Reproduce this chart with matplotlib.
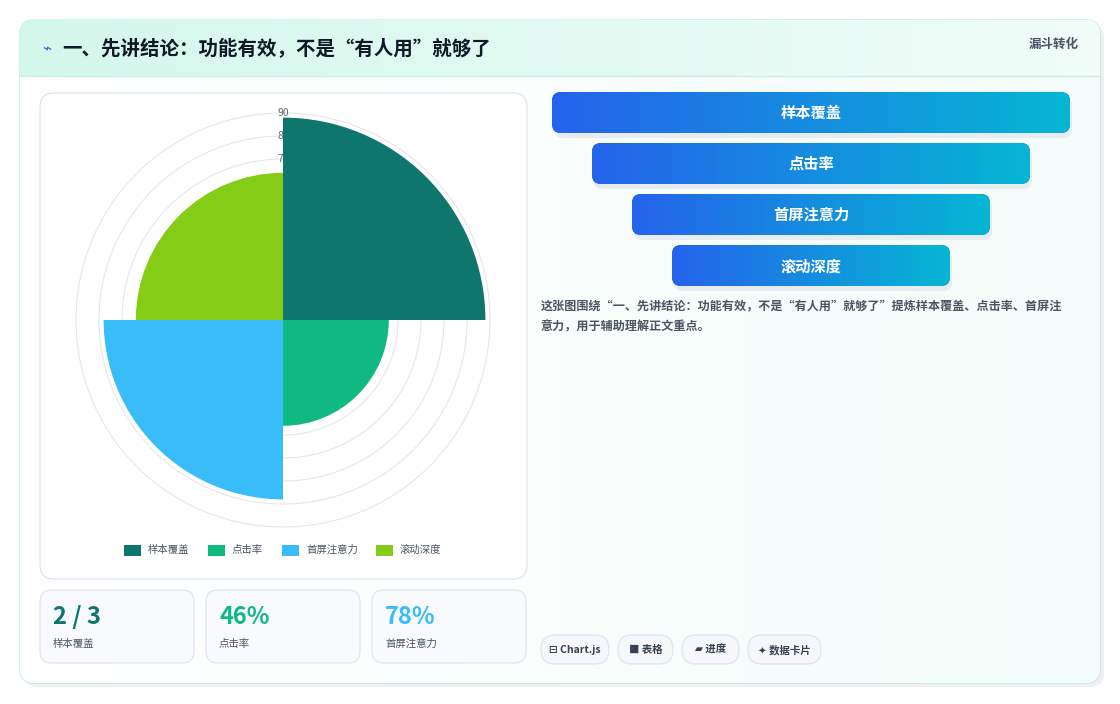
import numpy as np
import matplotlib
matplotlib.use("Agg")
import matplotlib.pyplot as plt
from matplotlib.patches import FancyBboxPatch, Rectangle
from matplotlib.colors import LinearSegmentedColormap

plt.rcParams['font.family'] = ['Noto Sans CJK SC', 'DejaVu Sans']

W, H = 1120, 704

# data
categories = ["样本覆盖", "点击率", "首屏注意力", "滚动深度"]
values = [88, 46, 78, 64]
colors_ = ["#0f766e", "#10b981", "#38bdf8", "#84cc16"]
ring_ticks = [10, 20, 30, 40, 50, 60, 70, 80, 90]
stat_values = ["2 / 3", "46%", "78%"]
stat_labels = ["样本覆盖", "点击率", "首屏注意力"]
stat_colors = ["#0f766e", "#10b981", "#38bdf8"]
chips = ["⊟ Chart.js", "■ 表格", "▰ 进度", "✦ 数据卡片"]
title = "一、先讲结论：功能有效，不是“有人用”就够了"
desc = ["这张图围绕“一、先讲结论：功能有效，不是“有人用”就够了”提炼样本覆盖、点击率、首屏注",
        "意力，用于辅助理解正文重点。"]

fig = plt.figure(figsize=(W / 100, H / 100), dpi=100)
fig.patch.set_facecolor("white")
ov = fig.add_axes([0, 0, 1, 1])
ov.set_xlim(0, W)
ov.set_ylim(H, 0)
ov.axis('off')


def rbox(x, y, w, h, r, fc, ec, lw=1, z=1):
    p = FancyBboxPatch((x + r, y + r), w - 2 * r, h - 2 * r,
                       boxstyle="round,pad=%d" % r, fc=fc, ec=ec, lw=lw, zorder=z)
    ov.add_patch(p)
    return p


def hgrad(patch, x, y, w, h, c1, c2, z):
    cmap = LinearSegmentedColormap.from_list("g", [c1, c2])
    im = ov.imshow(np.linspace(0, 1, 256)[None, :], extent=[x, x + w, y + h, y],
                   cmap=cmap, aspect='auto', zorder=z)
    im.set_clip_path(patch)


# main card
rbox(24, 24, 1080, 663, 14, "#eef0f2", "none", z=0)
card = rbox(20, 20, 1080, 663, 14, "#f7fdfb", "#a7e8d8", lw=0.8, z=1)
hgrad(card, 20, 20, 1080, 663, "#ffffff", "#f3fcfa", 1.1)
cm = LinearSegmentedColormap.from_list("h", ["#d4f7ec", "#f0fdf9"])
im = ov.imshow(np.linspace(0, 1, 256)[None, :], extent=[20, 1100, 76, 20], cmap=cm,
               aspect='auto', zorder=1.2)
im.set_clip_path(card)
ov.plot([20, 1100], [76, 76], color="#c9efe4", lw=1, zorder=1.3)
ov.text(42, 49, "⌁", color="#2563eb", fontsize=11, va='center', zorder=3)
ov.text(62, 49, title, fontsize=14, fontweight='bold', color="#111827", va='center', zorder=3)
ov.text(1079, 44, "漏斗转化", fontsize=9, fontweight='bold', color="#4b5563", va='center', ha='right', zorder=3)

# chart panel
rbox(40, 93, 487, 486, 14, "white", "#dde3ea", lw=0.8, z=2)

# funnel
for i, name in enumerate(categories):
    x0 = 552 + 40 * i
    w = 518 - 80 * i
    y0 = 92 + 51 * i
    rbox(x0 + 2, y0 + 5, w, 41, 9, "#e6ecef", "none", z=2)
    p = rbox(x0, y0, w, 41, 9, "#2563eb", "none", z=3)
    hgrad(p, x0, y0, w, 41, "#2563eb", "#06b6d4", 3.1)
    ov.text(x0 + w / 2, y0 + 21, name, color="white", fontsize=11, fontweight='bold',
            ha='center', va='center', zorder=4)

for j, line in enumerate(desc):
    ov.text(541, 307 + 20 * j, line, fontsize=8.7, fontweight='bold', color="#4b5563",
            va='center', zorder=3)

# chips
cx = 541
chip_w = {"⊟ Chart.js": 68, "■ 表格": 55, "▰ 进度": 57, "✦ 数据卡片": 73}
for c in chips:
    w = chip_w[c]
    rbox(cx, 635, w, 29, 14, "#f5f7fa", "#dde3ea", lw=0.8, z=2)
    ov.text(cx + w / 2, 650, c, fontsize=7.5, fontweight='bold', color="#374151",
            ha='center', va='center', zorder=3)
    cx += w + 9

# stat cards
for i in range(3):
    x0 = 40 + 166 * i
    rbox(x0, 590, 154, 73, 12, "#f8fafe", "#dde3ea", lw=0.8, z=2)
    ov.text(x0 + 13, 617, stat_values[i], fontsize=17, fontweight='bold',
            color=stat_colors[i], va='center', zorder=3)
    ov.text(x0 + 13, 644, stat_labels[i], fontsize=7.5, color="#4b5563", va='center', zorder=3)

# legend
lx = 124
for name, c in zip(categories, colors_):
    ov.add_patch(Rectangle((lx, 545), 17, 11, fc=c, ec="none", zorder=3))
    ov.text(lx + 24, 550, name, fontsize=7.5, color="#4b5563", va='center', zorder=3)
    lx += 24 + len(name) * 10 + 20

# polar area chart
r_px = 207
cx0, cy0 = 283, 320
pax = fig.add_axes([(cx0 - r_px) / W, 1 - (cy0 + r_px) / H, 2 * r_px / W, 2 * r_px / H],
                   projection='polar')
pax.set_theta_zero_location('N')
pax.set_theta_direction(-1)
theta = np.deg2rad(np.arange(len(values)) * 90 + 45)
pax.bar(theta, values, width=np.pi / 2, color=colors_, zorder=3)
pax.set_ylim(0, 90)
pax.set_yticks([])
pax.set_xticks([])
pax.spines['polar'].set_visible(False)
pax.grid(False)
tt = np.linspace(0, 2 * np.pi, 361)
for t in ring_ticks:
    pax.plot(tt, np.full_like(tt, t), color="#e5e7eb", lw=0.8, zorder=1, clip_on=False)
for t in [70, 80, 90]:
    pax.text(0, t, str(t), fontsize=7.5, color="#666666", ha='center', va='center', zorder=2)
pax.set_facecolor("none")

fig.savefig("out.png", dpi=100)
